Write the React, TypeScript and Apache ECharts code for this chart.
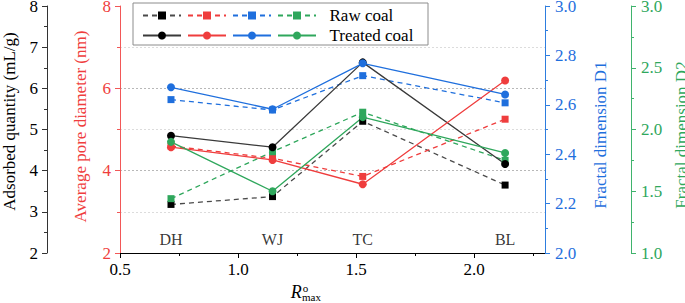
import React, { useEffect, useRef } from "react";
import * as echarts from "echarts";

const sites = ["DH", "WJ", "TC", "BL"];
const roMax = [0.716, 1.146, 1.528, 2.131];
const adsorbedRaw = [3.18, 3.37, 5.2, 3.65];
const adsorbedTreated = [4.85, 4.57, 6.63, 4.16];
const poreRaw = [4.6, 4.3, 3.86, 5.25];
const poreTreated = [4.57, 4.26, 3.67, 6.19];
const d1Raw = [2.621, 2.579, 2.718, 2.608];
const d1Treated = [2.671, 2.582, 2.768, 2.642];
const d2Raw = [1.44, 1.82, 2.14, 1.75];
const d2Treated = [1.9, 1.5, 2.1, 1.81];
const siteLabelLevel = 2.32;
const xMajorTicks = [0.5, 1.0, 1.5, 2.0];
const xMinorTicks = [0.75, 1.25, 1.75, 2.25];

const FONT = "Liberation Serif";
const BLACK = "#000000";
const RED = "#ef3d3d";
const BLUE = "#1f6fdd";
const GREEN = "#2fa75c";
const RED_AXIS = "#f25757";
const BLUE_AXIS = "#2d7ddf";
const GREEN_AXIS = "#3fb36c";
const NBSP = "\u00a0";

const pts = (vals: number[]) => vals.map((v, i) => [roMax[i], v]);

export default function App() {
  const ref = useRef<HTMLDivElement>(null);
  useEffect(() => {
    document.body.style.margin = "0";
    if (!ref.current) return;
    const chart = echarts.init(ref.current, null, { renderer: "svg" });
    const mkSeries = (
      name: string,
      data: number[],
      yAxisIndex: number,
      color: string,
      lineColor: string,
      raw: boolean
    ) => ({
      name,
      type: "line",
      yAxisIndex,
      data: pts(data),
      symbol: raw ? "rect" : "circle",
      symbolSize: raw ? 7 : 8,
      showSymbol: true,
      itemStyle: { color },
      lineStyle: { color: lineColor, width: 1.3, type: raw ? [5, 4] : "solid" },
      emphasis: { disabled: true },
    });
    const tickLabel = (color: string) => ({
      color,
      fontFamily: FONT,
      fontSize: 17,
    });
    const yTickLabel = (color: string) => ({
      color,
      fontFamily: FONT,
      fontSize: 17,
      lineHeight: 12,
    });
    const nameStyle = (color: string, padding: number[]) => ({
      color,
      fontFamily: FONT,
      fontSize: 17,
      lineHeight: 17,
      padding,
    });
    const legendBase = {
      left: 142,
      itemWidth: 38,
      itemHeight: 10,
      itemGap: 5,
      padding: 0,
      selectedMode: false,
      textStyle: { fontFamily: FONT, fontSize: 17, color: "#000" },
    };
    chart.setOption({
      animation: false,
      grid: {
        left: 120,
        right: 140,
        top: 6,
        bottom: 50,
        containLabel: false,
        outerBoundsMode: "none",
      },
      legend: [
        {
          ...legendBase,
          top: 7,
          data: ["Adsorbed raw", "Pore raw", "D1 raw", "D2 raw"],
          formatter: (n: string) => (n === "D2 raw" ? NBSP + NBSP + "Raw coal" : ""),
        },
        {
          ...legendBase,
          top: 27,
          data: ["Adsorbed treated", "Pore treated", "D1 treated", "D2 treated"],
          formatter: (n: string) => (n === "D2 treated" ? NBSP + NBSP + "Treated coal" : ""),
        },
      ],
      graphic: [
        {
          type: "rect",
          x: 133,
          y: 3,
          shape: { x: 0, y: 0, width: 295, height: 42 },
          style: { fill: "none", stroke: "#8c8c8c", lineWidth: 1 },
          z: 1,
        },
      ],
      xAxis: [
        {
          type: "value",
          position: "bottom",
          min: 0.5,
          max: 2.3,
          interval: 0.5,
          name: "{r|R}{o|o}",
          nameLocation: "middle",
          nameGap: 25,
          nameTextStyle: {
            padding: [0, 66, 0, 0],
            rich: {
              r: { fontFamily: FONT, fontSize: 18, fontStyle: "italic", color: "#000", lineHeight: 18 },
              o: { fontFamily: FONT, fontSize: 11, color: "#000", verticalAlign: "top", lineHeight: 18, padding: [0, 0, 6, 1] },
            },
          },
          axisLine: { show: true, lineStyle: { color: "#000", width: 1 } },
          axisTick: { show: true, inside: false, length: 5, customValues: xMajorTicks, lineStyle: { color: "#000" } },
          axisLabel: {
            ...tickLabel("#000"),
            margin: 8,
            customValues: xMajorTicks,
            formatter: (v: number) => v.toFixed(1),
          },
          splitLine: { show: false },
        },
        {
          type: "value",
          position: "bottom",
          min: 0.5,
          max: 2.3,
          interval: 0.5,
          name: "max",
          nameLocation: "middle",
          nameGap: 38,
          nameTextStyle: {
            fontFamily: FONT,
            fontSize: 11,
            color: "#000",
            lineHeight: 11,
            padding: [0, 42, 0, 0],
          },
          axisLine: { show: false },
          axisTick: { show: true, inside: false, length: 3, customValues: xMinorTicks, lineStyle: { color: "#000" } },
          axisLabel: { show: false },
          splitLine: { show: false },
        },
      ],
      yAxis: [
        {
          type: "value",
          position: "left",
          offset: 73,
          min: 2,
          max: 8,
          interval: 1,
          name: "Adsorbed quantity (mL/g)",
          nameLocation: "middle",
          nameRotate: 90,
          nameGap: 29,
          nameTextStyle: nameStyle("#000", [0, 0, 0, 16]),
          axisLine: { show: true, lineStyle: { color: "#333", width: 1 } },
          axisTick: { show: true, length: 5, lineStyle: { color: "#333" } },
          minorTick: { show: true, splitNumber: 2, length: 3, lineStyle: { color: "#333" } },
          axisLabel: { ...yTickLabel("#000"), margin: 9 },
          splitLine: { show: false },
        },
        {
          type: "value",
          position: "left",
          offset: 0,
          min: 2,
          max: 8,
          interval: 2,
          name: "Average pore diameter (nm)",
          nameLocation: "middle",
          nameRotate: 90,
          nameGap: 31,
          nameTextStyle: nameStyle(RED, [0, 0, 0, 6]),
          axisLine: { show: true, lineStyle: { color: RED_AXIS, width: 1 } },
          axisTick: { show: true, length: 5, lineStyle: { color: RED_AXIS } },
          minorTick: { show: true, splitNumber: 2, length: 3, lineStyle: { color: RED_AXIS } },
          axisLabel: { ...yTickLabel(RED), margin: 9 },
          splitLine: {
            show: true,
            showMinLine: false,
            showMaxLine: false,
            lineStyle: { color: "#b8b8b8", type: [2, 2], width: 1 },
          },
          minorSplitLine: {
            show: true,
            lineStyle: { color: "#dcdcdc", type: [2, 2], width: 1 },
          },
        },
        {
          type: "value",
          position: "right",
          offset: 0,
          min: 2,
          max: 3,
          interval: 0.2,
          name: "Fractal dimension D1",
          nameLocation: "middle",
          nameRotate: 90,
          nameGap: 47,
          nameTextStyle: nameStyle(BLUE, [0, 11, 0, 0]),
          axisLine: { show: true, lineStyle: { color: BLUE_AXIS, width: 1 } },
          axisTick: { show: true, length: 5, lineStyle: { color: BLUE_AXIS } },
          minorTick: { show: true, splitNumber: 2, length: 3, lineStyle: { color: BLUE_AXIS } },
          axisLabel: { ...yTickLabel(BLUE), margin: 10, formatter: (v: number) => v.toFixed(1) },
          splitLine: { show: false },
        },
        {
          type: "value",
          position: "right",
          offset: 86,
          min: 1,
          max: 3,
          interval: 0.5,
          name: "Fractal dimension D2",
          nameLocation: "middle",
          nameRotate: 90,
          nameGap: 35,
          nameTextStyle: nameStyle(GREEN, [0, 11, 0, 0]),
          axisLine: { show: true, lineStyle: { color: GREEN_AXIS, width: 1 } },
          axisTick: { show: true, length: 5, lineStyle: { color: GREEN_AXIS } },
          minorTick: { show: true, splitNumber: 2, length: 3, lineStyle: { color: GREEN_AXIS } },
          axisLabel: { ...yTickLabel(GREEN), margin: 10, formatter: (v: number) => v.toFixed(1) },
          splitLine: { show: false },
        },
      ],
      series: [
        mkSeries("Adsorbed raw", adsorbedRaw, 0, BLACK, "#4a4a4a", true),
        mkSeries("Pore raw", poreRaw, 1, RED, RED, true),
        mkSeries("D1 raw", d1Raw, 2, BLUE, BLUE, true),
        mkSeries("D2 raw", d2Raw, 3, GREEN, GREEN, true),
        mkSeries("Adsorbed treated", adsorbedTreated, 0, BLACK, "#3a3a3a", false),
        mkSeries("Pore treated", poreTreated, 1, RED, RED, false),
        mkSeries("D1 treated", d1Treated, 2, BLUE, BLUE, false),
        mkSeries("D2 treated", d2Treated, 3, GREEN, GREEN, false),
        {
          name: "sites",
          type: "scatter",
          yAxisIndex: 0,
          symbolSize: 0,
          data: sites.map((s, i) => [roMax[i], siteLabelLevel, s]),
          label: {
            show: true,
            position: "inside",
            formatter: (p: any) => p.value[2],
            fontFamily: FONT,
            fontSize: 16,
            color: "#000",
          },
          emphasis: { disabled: true },
          silent: true,
        },
      ],
    });
    return () => chart.dispose();
  }, []);
  return <div ref={ref} style={{ width: 685, height: 303 }} />;
}
